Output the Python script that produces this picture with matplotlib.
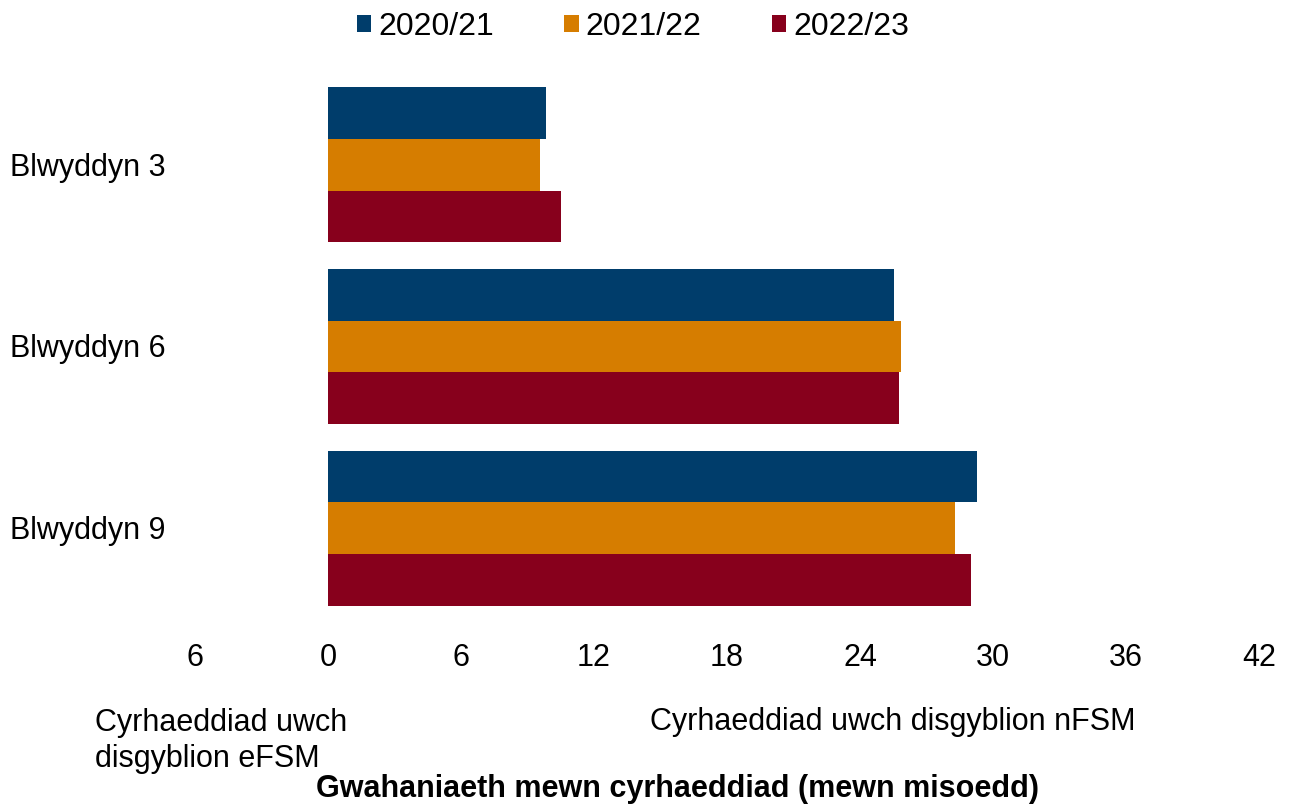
import matplotlib
matplotlib.use("Agg")
import matplotlib.pyplot as plt
from matplotlib.patches import Patch
from matplotlib.transforms import blended_transform_factory, offset_copy
import numpy as np

plt.rcParams['font.family'] = ['Liberation Sans', 'DejaVu Sans']

categories = ["Blwyddyn 3", "Blwyddyn 6", "Blwyddyn 9"]
series_names = ["2020/21", "2021/22", "2022/23"]
v2020 = [9.85, 25.55, 29.3]
v2021 = [9.55, 25.85, 28.3]
v2022 = [10.5, 25.75, 29.0]
tick_values = [-6, 0, 6, 12, 18, 24, 30, 36, 42]
tick_labels = ["6", "0", "6", "12", "18", "24", "30", "36", "42"]
colors = ["#003D6B", "#D67D00", "#87001C"]

FS = 22

fig = plt.figure(figsize=(12.89, 8.07), dpi=100)
ax = fig.add_axes([195/1289, 1-619/807, (1259-195)/1289, (619-74)/807])

y = np.arange(len(categories))
h = 0.285
for i, (vals, name, c) in enumerate(zip([v2020, v2021, v2022], series_names, colors)):
    ax.barh(y + (i - 1) * h, vals, height=h, color=c, label=name)

ax.set_xlim(-6, 42)
ax.set_ylim(2.5, -0.5)
ax.set_yticks(y)
ax.set_yticklabels([])
ax.set_xticks(tick_values)
ax.set_xticklabels(tick_labels, fontsize=FS)
ax.tick_params(axis='both', length=0)
ax.tick_params(axis='x', pad=17)
for s in ax.spines.values():
    s.set_visible(False)

trans = offset_copy(blended_transform_factory(fig.transFigure, ax.transData),
                    fig=fig, x=0, y=-3, units='dots')
for yi, cat in zip(y, categories):
    ax.text(10/1289, yi, cat, transform=trans, fontsize=FS, ha='left', va='center')

fig.text(95/1289, 1-741/807, "Cyrhaeddiad uwch\ndisgyblion eFSM", fontsize=FS,
         ha='left', va='center', linespacing=1.27)
fig.text(650/1289, 1-722/807, "Cyrhaeddiad uwch disgyblion nFSM", fontsize=FS,
         ha='left', va='center')
fig.text(677/1289, 1-789/807, "Gwahaniaeth mewn cyrhaeddiad (mewn misoedd)",
         fontsize=FS, fontweight='bold', ha='center', va='center')

handles = [Patch(facecolor=c, edgecolor='none') for c in colors]
fig.legend(handles, series_names, loc='center', bbox_to_anchor=(633/1289, 1-27/807),
           ncol=3, frameon=False, fontsize=23, handlelength=0.45, handleheight=0.45,
           handletextpad=0.22, columnspacing=2.2, borderpad=0, borderaxespad=0)

fig.savefig("out.png", dpi=100)
